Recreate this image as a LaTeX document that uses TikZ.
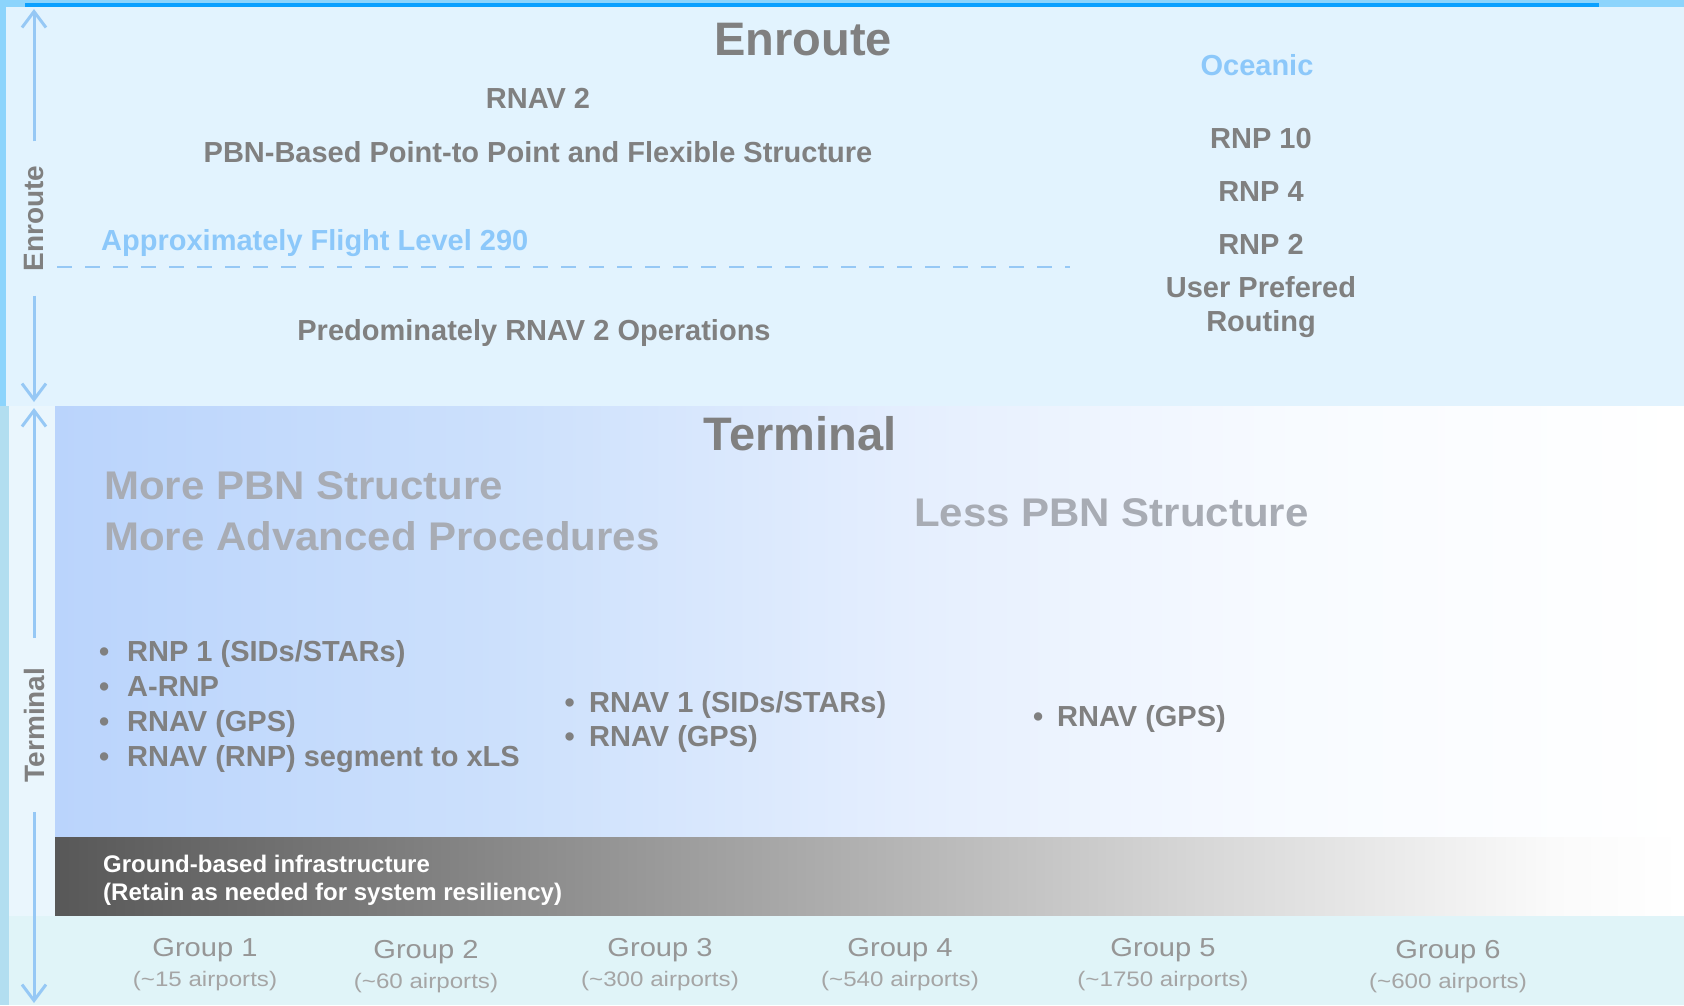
\documentclass[tikz,border=0pt]{standalone}
\usepackage{fontspec}
\setmainfont{Liberation Sans}
\usetikzlibrary{arrows.meta}

% palette
\definecolor{enroutebg}{RGB}{226,243,254}
\definecolor{topstrip}{RGB}{140,212,252}
\definecolor{topbar}{RGB}{10,160,255}
\definecolor{leftstrip}{RGB}{178,222,240}
\definecolor{leftcol}{RGB}{234,246,253}
\definecolor{groupbg}{RGB}{224,244,248}
\definecolor{txtgray}{RGB}{128,128,128}
\definecolor{softgray}{RGB}{168,172,180}
\definecolor{lightblue}{RGB}{140,200,250}
\definecolor{arrowblue}{RGB}{150,200,245}
\definecolor{grpgray}{RGB}{150,150,150}
\definecolor{aptgray}{RGB}{165,165,165}

% terminal band: blue on the left fading to white
\definecolor{tA}{RGB}{186,212,252}
\definecolor{tB}{RGB}{204,224,252}
\definecolor{tC}{RGB}{228,238,254}
\definecolor{tD}{RGB}{248,251,255}
\definecolor{tE}{RGB}{255,255,255}
\pgfdeclarehorizontalshading{terminalfade}{100bp}{color(0bp)=(tA); color(25bp)=(tA); color(38.7bp)=(tB); color(50.9bp)=(tC); color(63.2bp)=(tD); color(75bp)=(tE); color(100bp)=(tE)}

% ground-based infrastructure bar: dark grey fading to white
\definecolor{gA}{RGB}{88,88,88}
\definecolor{gB}{RGB}{125,125,125}
\definecolor{gC}{RGB}{170,170,170}
\definecolor{gD}{RGB}{215,215,215}
\definecolor{gE}{RGB}{250,250,250}
\definecolor{gF}{RGB}{255,255,255}
\pgfdeclarehorizontalshading{groundfade}{100bp}{color(0bp)=(gA); color(25bp)=(gA); color(35.6bp)=(gB); color(47.9bp)=(gC); color(60.1bp)=(gD); color(70.9bp)=(gE); color(75bp)=(gF); color(100bp)=(gF)}

% bullet followed by a fixed gap
\newcommand{\bulitem}[1]{\makebox[#1][l]{\textbullet}}

\begin{document}
\begin{tikzpicture}[x=1pt,y=-1pt,
  txt/.style={inner sep=0pt, text=txtgray, font=\bfseries\fontsize{29}{35}\selectfont},
  bigtitle/.style={inner sep=0pt, text=txtgray, font=\bfseries\fontsize{47}{56}\selectfont},
  structure/.style={inner sep=0pt, text=softgray, xscale=1.05, font=\bfseries\fontsize{40}{48}\selectfont},
  grounds/.style={inner sep=0pt, text=white, anchor=base west, font=\bfseries\fontsize{24}{29}\selectfont},
  grp/.style={inner sep=0pt, text=grpgray, anchor=base, xscale=1.12, font=\fontsize{26}{31}\selectfont},
  apt/.style={inner sep=0pt, text=aptgray, anchor=base, xscale=1.15, font=\fontsize{21}{25}\selectfont},
  sidelabel/.style={rotate=90, inner ysep=2pt, text=txtgray, font=\bfseries\fontsize{28}{34}\selectfont},
  arr/.style={draw=arrowblue, line width=3pt, -{Straight Barb[length=16pt,width=24pt]}}
]
\useasboundingbox (0,0) rectangle (1684,1005);

% background bands
\fill[enroutebg] (0,0) rectangle (1684,1005);
\fill[topstrip] (0,0) rectangle (1684,7);
\fill[topbar] (25,3) rectangle (1599,7);
\fill[topstrip] (0,0) rectangle (6,406);
\fill[leftcol] (6,406) rectangle (55,916);
\shade[shading=terminalfade] (55,406) rectangle (1684,837);
\shade[shading=groundfade] (55,837) rectangle (1684,916);
\fill[groupbg] (6,916) rectangle (1684,1005);
\fill[leftstrip] (0,406) rectangle (9,1005);

% enroute band
\node[bigtitle, anchor=base] (entitle) at (803,55) {Enroute};
\node[txt, anchor=base] (rnav2) at (538,108) {RNAV 2};
\node[txt, anchor=base] (pbn) at (538,162) {PBN-Based Point-to Point and Flexible Structure};
\node[txt, anchor=base west, text=lightblue] (fl290) at (101,250) {Approximately Flight Level 290};
\coordinate (fl-l) at (57,267);
\coordinate (fl-r) at (1070,267);
\draw[arrowblue, line width=2.5pt, dash pattern=on 15pt off 13pt] (fl-l) -- (fl-r);
\node[txt, anchor=base] (predom) at (534,340) {Predominately RNAV 2 Operations};

\node[txt, anchor=base, text=lightblue] (ocean) at (1257,75) {Oceanic};
\node[txt, anchor=base] (rnp10) at (1261,148) {RNP 10};
\node[txt, anchor=base] (rnp4) at (1261,201) {RNP 4};
\node[txt, anchor=base] (rnp2) at (1261,254) {RNP 2};
\node[txt, anchor=base] (upref) at (1261,297) {User Prefered};
\node[txt, anchor=base] (routing) at (1261,331) {Routing};

% terminal band
\node[bigtitle, anchor=base] (tetitle) at (800,450) {Terminal};
\node[structure, anchor=base west] (more1) at (104,499) {More PBN Structure};
\node[structure, anchor=base west] (more2) at (104,550) {More Advanced Procedures};
\node[structure, anchor=base west] (less) at (914,526) {Less PBN Structure};

\node[txt, anchor=base west] (l1) at (99,661) {\bulitem{28pt}RNP 1 (SIDs/STARs)};
\node[txt, anchor=base west] (l2) at (99,696) {\bulitem{28pt}A-RNP};
\node[txt, anchor=base west] (l3) at (99,731) {\bulitem{28pt}RNAV (GPS)};
\node[txt, anchor=base west] (l4) at (99,766) {\bulitem{28pt}RNAV (RNP) segment to xLS};

\node[txt, anchor=base west] (m1) at (564.5,712) {\bulitem{24.5pt}RNAV 1 (SIDs/STARs)};
\node[txt, anchor=base west] (m2) at (564.5,746) {\bulitem{24.5pt}RNAV (GPS)};

\node[txt, anchor=base west] (r1) at (1033,726) {\bulitem{24pt}RNAV (GPS)};

% ground-based infrastructure bar
\node[grounds] (gnd1) at (103,872) {Ground-based infrastructure};
\node[grounds] (gnd2) at (103,900) {(Retain as needed for system resiliency)};

% airport groups
\node[grp] (g1) at (205,956) {Group 1};
\node[apt] (a1) at (205,986) {(\textasciitilde 15 airports)};
\node[grp] (g2) at (426,958) {Group 2};
\node[apt] (a2) at (426,988) {(\textasciitilde 60 airports)};
\node[grp] (g3) at (660,956) {Group 3};
\node[apt] (a3) at (660,986) {(\textasciitilde 300 airports)};
\node[grp] (g4) at (900,956) {Group 4};
\node[apt] (a4) at (900,986) {(\textasciitilde 540 airports)};
\node[grp] (g5) at (1163,956) {Group 5};
\node[apt] (a5) at (1163,986) {(\textasciitilde 1750 airports)};
\node[grp] (g6) at (1448,958) {Group 6};
\node[apt] (a6) at (1448,988) {(\textasciitilde 600 airports)};

% side extents with double-headed arrows broken by their labels
\coordinate (en-top) at (34,9);
\coordinate (en-bot) at (34,402);
\node[sidelabel, inner xsep=24pt] (enlabel) at (34,218.5) {Enroute};
\draw[arr] (enlabel) -- (en-top);
\draw[arr] (enlabel) -- (en-bot);

\coordinate (te-top) at (34,408);
\coordinate (te-bot) at (34,1003);
\node[sidelabel, inner xsep=29.5pt] (telabel) at (34,725) {Terminal};
\draw[arr] (telabel) -- (te-top);
\draw[arr] (telabel) -- (te-bot);
\end{tikzpicture}
\end{document}
